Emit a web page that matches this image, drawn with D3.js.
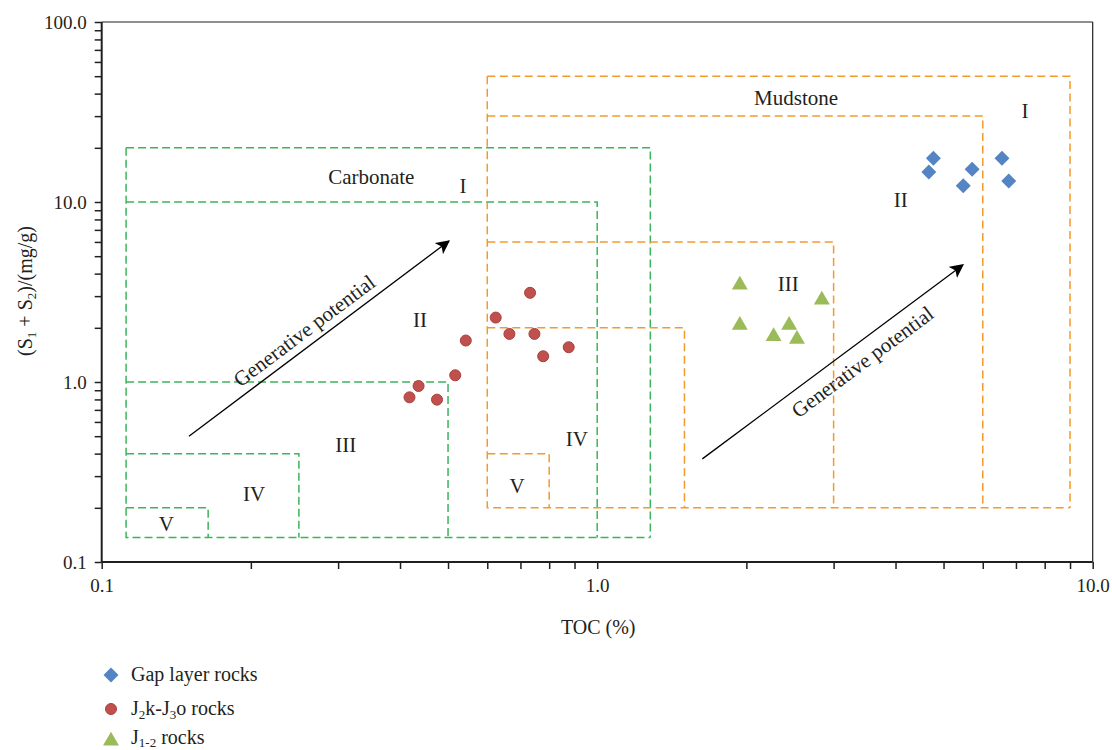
<!DOCTYPE html>
<html><head><meta charset="utf-8">
<script src="https://cdn.jsdelivr.net/npm/d3@7"></script>
<style>
body{margin:0;background:#fff;}
text{font-family:"Liberation Serif","DejaVu Serif",serif;fill:#231f20;}
</style></head>
<body><svg id="c" width="1112" height="750"></svg>
<script>
// ---- data ----
const gapTOC = [4.77, 4.67, 5.71, 5.48, 6.56, 6.77];
const gapS = [17.5, 14.7, 15.2, 12.3, 17.5, 13.1];
const jkTOC = [0.732, 0.624, 0.665, 0.747, 0.876, 0.778, 0.543, 0.517, 0.436, 0.418, 0.475];
const jkS = [3.13, 2.28, 1.85, 1.85, 1.56, 1.39, 1.70, 1.09, 0.95, 0.822, 0.798];
const j12TOC = [1.94, 1.94, 2.27, 2.44, 2.53, 2.84];
const j12S = [3.46, 2.07, 1.79, 2.07, 1.73, 2.86];

// classification boxes
const carbLeft = 0.112, carbBottom = 0.137;
const carbRight = [1.28, 1.0, 0.5, 0.25, 0.164];
const carbTop = [20, 10, 1.0, 0.4, 0.2];
const mudLeft = 0.6, mudBottom = 0.2;
const mudRight = [9.0, 6.0, 3.0, 1.5, 0.8];
const mudTop = [50, 30, 6.0, 2.0, 0.4];

const carbLabels = ["Carbonate", "I", "II", "III", "IV", "V"];
const carbLabelX = [0.35, 0.536, 0.439, 0.311, 0.203, 0.135];
const carbLabelY = [13.8, 12.3, 2.21, 0.447, 0.239, 0.163];
const mudLabels = ["Mudstone", "I", "II", "III", "IV", "V"];
const mudLabelX = [2.52, 7.30, 4.10, 2.43, 0.910, 0.689];
const mudLabelY = [37.8, 32, 10.3, 3.5, 0.482, 0.264];

// arrows [x1,y1,x2,y2]
const arrowLeft = [0.150, 0.5, 0.502, 6.07];
const arrowRight = [1.63, 0.374, 5.47, 4.47];

const xTicks = [0.1, 1.0, 10.0];
const xTickLabels = ["0.1", "1.0", "10.0"];
const yTicks = [0.1, 1, 10, 100];
const yTickLabels = ["0.1", "1.0", "10.0", "100.0"];

// ---- chart ----
const svg = d3.select("#c");
const L = 101.7, R = 1092.7, T = 22, B = 562;
const x = d3.scaleLog().domain([0.1, 10]).range([L, R]);
const y = d3.scaleLog().domain([0.1, 100]).range([B, T]);

const defs = svg.append("defs");
defs.append("marker").attr("id", "ah").attr("viewBox", "0 0 10 10")
  .attr("refX", 9).attr("refY", 5).attr("markerWidth", 14).attr("markerHeight", 14)
  .attr("markerUnits", "userSpaceOnUse").attr("orient", "auto")
  .append("path").attr("d", "M0,0 L10,5 L0,10 L2.5,5 Z").attr("fill", "#000");

function drawBoxes(left, bottom, rights, tops, color, dash) {
  const st = sel => sel.attr("fill", "none").attr("stroke", color).attr("stroke-width", 1.5).attr("stroke-dasharray", dash);
  const maxTop = d3.max(tops), maxRight = d3.max(rights);
  // shared left and bottom edges
  svg.append("path").call(st)
    .attr("d", `M${x(left)},${y(maxTop)}V${y(bottom)}H${x(maxRight)}`);
  rights.forEach((r, i) => {
    svg.append("path").call(st)
      .attr("d", `M${x(left)},${y(tops[i])}H${x(r)}V${y(bottom)}`);
  });
}
drawBoxes(carbLeft, carbBottom, carbRight, carbTop, "#3cb45a", "8,4");
drawBoxes(mudLeft, mudBottom, mudRight, mudTop, "#f39a2c", "8,4.5");

function labels(ts, xs, ys) {
  ts.forEach((t, i) => {
    svg.append("text").attr("x", x(xs[i])).attr("y", y(ys[i]))
      .attr("text-anchor", "middle").attr("dominant-baseline", "central")
      .attr("font-size", 21).text(t);
  });
}
labels(carbLabels, carbLabelX, carbLabelY);
labels(mudLabels, mudLabelX, mudLabelY);

function arrow(a, along, offset) {
  const x1 = x(a[0]), y1 = y(a[1]), x2 = x(a[2]), y2 = y(a[3]);
  svg.append("line").attr("x1", x1).attr("y1", y1).attr("x2", x2).attr("y2", y2)
    .attr("stroke", "#000").attr("stroke-width", 1.3).attr("marker-end", "url(#ah)");
  const ang = Math.atan2(y2 - y1, x2 - x1) * 180 / Math.PI;
  const mx = (x1 + x2) / 2, my = (y1 + y2) / 2;
  svg.append("text")
    .attr("transform", `translate(${mx},${my}) rotate(${ang}) translate(${along},${offset})`)
    .attr("text-anchor", "middle").attr("font-size", 21).text("Generative potential");
}
arrow(arrowLeft, -7, -8);
arrow(arrowRight, 24, 25);

const blue = "#5584c4", red = "#c0504d", green = "#9bbb59";
gapTOC.forEach((v, i) => {
  svg.append("rect").attr("x", -5.3).attr("y", -5.3).attr("width", 10.6).attr("height", 10.6)
    .attr("transform", `translate(${x(v)},${y(gapS[i])}) rotate(45)`)
    .attr("fill", blue);
});
jkTOC.forEach((v, i) => {
  svg.append("circle").attr("cx", x(v)).attr("cy", y(jkS[i])).attr("r", 5.5)
    .attr("fill", red).attr("stroke", "#a8403d").attr("stroke-width", 1);
});
const tri = d3.symbol().type(d3.symbolTriangle).size(110);
j12TOC.forEach((v, i) => {
  svg.append("path").attr("d", tri()).attr("transform", `translate(${x(v)},${y(j12S[i])})`)
    .attr("fill", green);
});

// frame
svg.append("line").attr("x1", L).attr("x2", R).attr("y1", T).attr("y2", T).attr("stroke", "#231f20").attr("stroke-width", 1.2);
svg.append("line").attr("x1", R).attr("x2", R).attr("y1", T).attr("y2", B).attr("stroke", "#231f20").attr("stroke-width", 1.2);

const xAxis = d3.axisBottom(x).tickValues(d3.range(-1, 1).flatMap(e => d3.range(1, 10).map(m => m * Math.pow(10, e))).concat([10]))
  .tickSize(7).tickFormat(d => { const i = xTicks.findIndex(t => Math.abs(t - d) < 1e-9); return i >= 0 ? xTickLabels[i] : ""; });
const gx = svg.append("g").attr("transform", `translate(0,${B})`).call(xAxis);
gx.select(".domain").attr("stroke-width", 2).attr("stroke", "#231f20").attr("d", `M${L},0H${R}`);
gx.selectAll(".tick line").attr("stroke", "#231f20").attr("stroke-width", 1.5);
gx.selectAll(".tick text").attr("font-size", 19).attr("fill", "#231f20").attr("font-family", "Liberation Serif").attr("dy", "1.0em").attr("y", 11);

const yAxis = d3.axisLeft(y).tickValues(d3.range(-1, 2).flatMap(e => d3.range(1, 10).map(m => m * Math.pow(10, e))).concat([100]))
  .tickSize(7).tickFormat(d => { const i = yTicks.findIndex(t => Math.abs(t - d) < 1e-9); return i >= 0 ? yTickLabels[i] : ""; });
const gy = svg.append("g").attr("transform", `translate(${L},0)`).call(yAxis);
gy.select(".domain").attr("stroke-width", 2).attr("stroke", "#231f20").attr("d", `M0,${B}V${T}`);
gy.selectAll(".tick line").attr("stroke", "#231f20").attr("stroke-width", 1.5);
gy.selectAll(".tick text").attr("font-size", 19).attr("fill", "#231f20").attr("font-family", "Liberation Serif").attr("x", -15);

// axis titles
svg.append("text").attr("x", (L + R) / 2 + 1).attr("y", 634).attr("text-anchor", "middle").attr("font-size", 20).text("TOC (%)");
const yt = svg.append("text").attr("transform", "translate(32,291) rotate(-90)").attr("text-anchor", "middle").attr("font-size", 20);
yt.append("tspan").text("(S");
yt.append("tspan").attr("font-size", 13).attr("dy", 4).text("1");
yt.append("tspan").attr("dy", -4).text(" + S");
yt.append("tspan").attr("font-size", 13).attr("dy", 4).text("2");
yt.append("tspan").attr("dy", -4).text(")/(mg/g)");

// legend
const lg = svg.append("g");
lg.append("rect").attr("x", -5.3).attr("y", -5.3).attr("width", 10.6).attr("height", 10.6)
  .attr("transform", "translate(111,675) rotate(45)").attr("fill", blue);
lg.append("circle").attr("cx", 111).attr("cy", 709).attr("r", 5.5).attr("fill", red).attr("stroke", "#a8403d");
lg.append("path").attr("d", tri()).attr("transform", "translate(111,741)").attr("fill", green);
lg.append("text").attr("x", 131).attr("y", 681).attr("font-size", 20).text("Gap layer rocks");
const t2 = lg.append("text").attr("x", 131).attr("y", 715).attr("font-size", 20);
t2.append("tspan").text("J");
t2.append("tspan").attr("font-size", 13).attr("dy", 4).text("2");
t2.append("tspan").attr("dy", -4).text("k-J");
t2.append("tspan").attr("font-size", 13).attr("dy", 4).text("3");
t2.append("tspan").attr("dy", -4).text("o rocks");
const t3 = lg.append("text").attr("x", 131).attr("y", 744).attr("font-size", 20);
t3.append("tspan").text("J");
t3.append("tspan").attr("font-size", 13).attr("dy", 3).text("1-2");
t3.append("tspan").attr("dy", -3).text(" rocks");
</script></body></html>
